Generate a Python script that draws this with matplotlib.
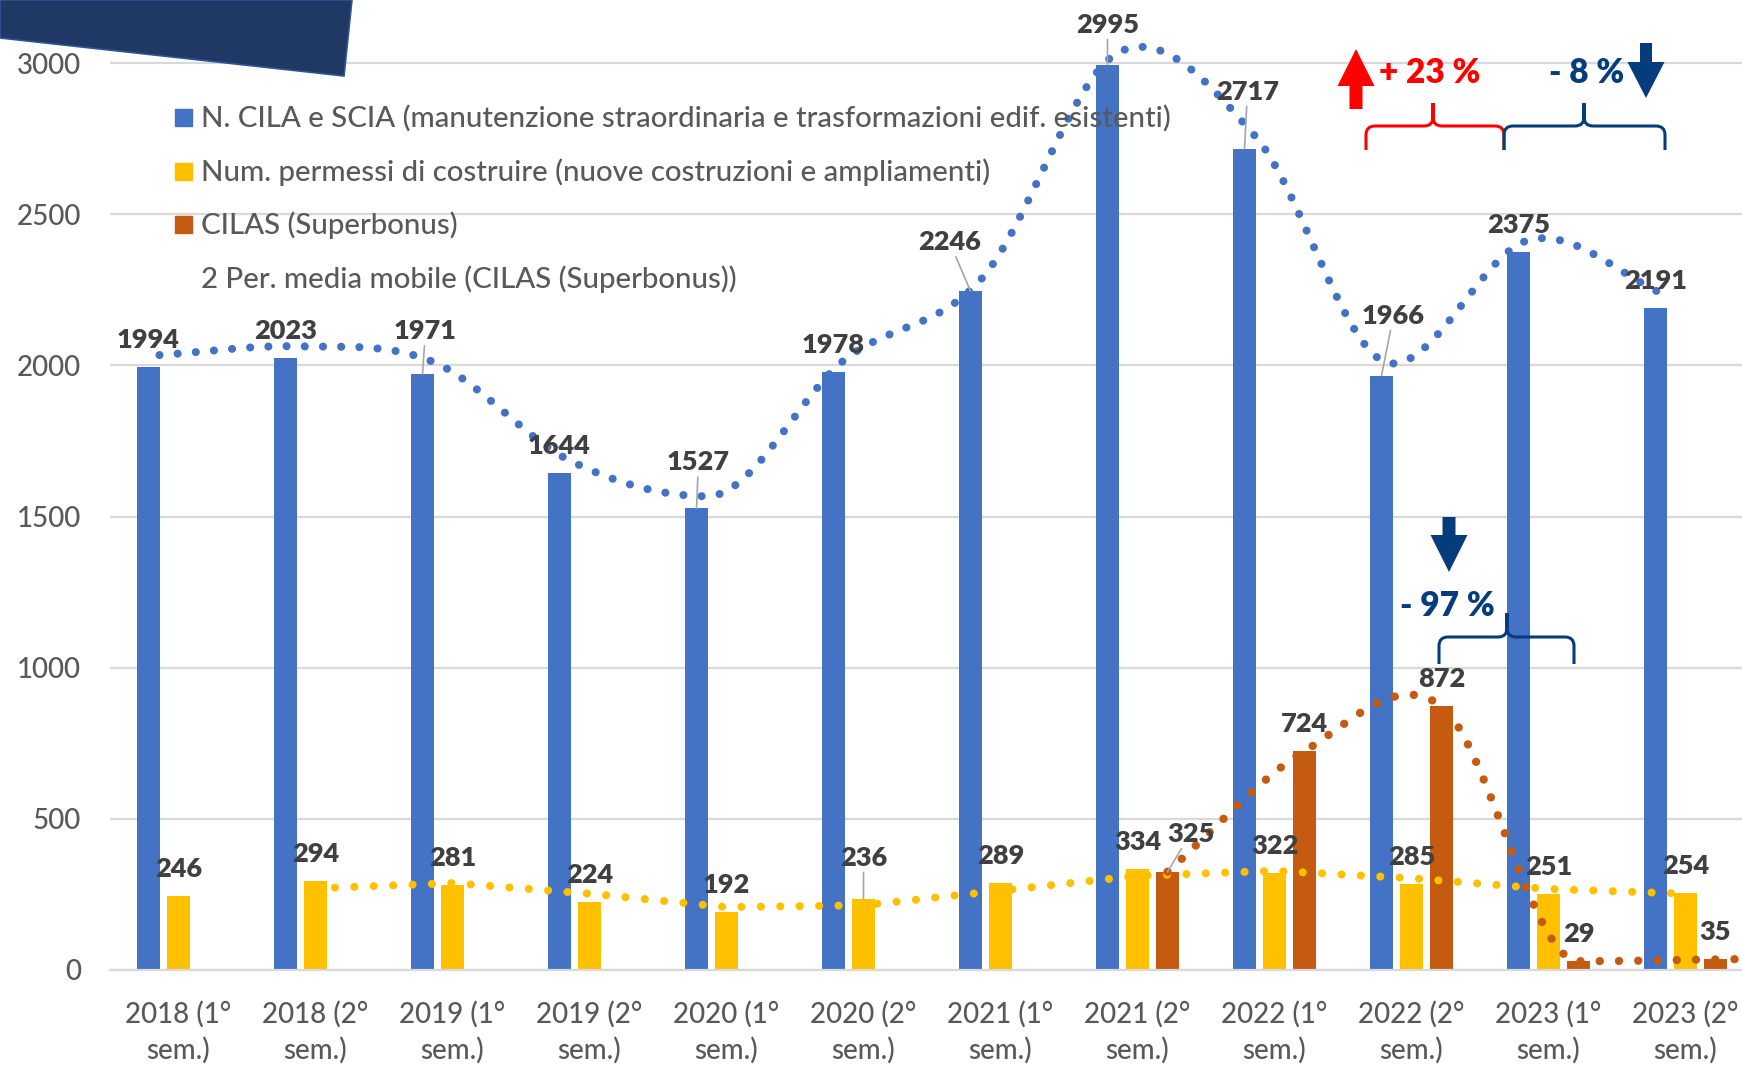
import numpy as np
import matplotlib
matplotlib.use("Agg")
import matplotlib.pyplot as plt
from matplotlib.patches import Polygon, PathPatch, Rectangle
from matplotlib.path import Path
from matplotlib.transforms import Affine2D

# ---------------- data ----------------
categories = ["2018 (1°\nsem.)", "2018 (2°\nsem.)", "2019 (1°\nsem.)", "2019 (2°\nsem.)",
              "2020 (1°\nsem.)", "2020 (2°\nsem.)", "2021 (1°\nsem.)", "2021 (2°\nsem.)",
              "2022 (1°\nsem.)", "2022 (2°\nsem.)", "2023 (1°\nsem.)", "2023 (2°\nsem.)"]
cila_scia = [1994, 2023, 1971, 1644, 1527, 1978, 2246, 2995, 2717, 1966, 2375, 2191]
permessi = [246, 294, 281, 224, 192, 236, 289, 334, 322, 285, 251, 254]
cilas = [np.nan] * 7 + [325, 724, 872, 29, 35]
legend_labels = ["N. CILA e SCIA (manutenzione straordinaria e trasformazioni edif. esistenti)",
                 "Num. permessi di costruire (nuove costruzioni e ampliamenti)",
                 "CILAS (Superbonus)",
                 "2 Per. media mobile (CILAS (Superbonus))"]
yticks = [0, 500, 1000, 1500, 2000, 2500, 3000]
note_up = "+ 23 %"
note_down = "- 8 %"
note_cilas = "- 97 %"

# ---------------- style ----------------
BLUE, YELLOW, ORANGE = "#4472C4", "#FFC000", "#C55A11"
NAVY = "#203864"
ANN_BLUE = "#053D7C"
RED = "#FF0000"
GRID = "#D9D9D9"
TXT = "#595959"
LBL = "#404040"
plt.rcParams["font.family"] = ["Lato", "DejaVu Sans"]
REG_W = "medium"

W, H = 1742, 1065
fig = plt.figure(figsize=(W / 100, H / 100), dpi=100)
PX = Affine2D().scale(1 / W, -1 / H).translate(0, 1) + fig.transFigure  # pixel coords, top-left origin

ax_left, ax_bottom_px = 110, 970
ax = fig.add_axes([ax_left / W, (H - ax_bottom_px) / H, (W - ax_left) / W, ax_bottom_px / H])
n = len(categories)
x = np.arange(n)
step_px = 137.0
x_right = -0.5 + (W - ax_left) / step_px
ax.set_xlim(-0.5, x_right)
ax.set_ylim(0, ax_bottom_px / 0.30233)

bw, off = 0.175, 0.219
xb, xy, xo = x - off, x, x + off
ax.bar(xb, cila_scia, width=bw, color=BLUE, zorder=2)
ax.bar(xy, permessi, width=bw, color=YELLOW, zorder=2)
cil = np.array(cilas, dtype=float)
mask = ~np.isnan(cil)
ax.bar(xo[mask], cil[mask], width=bw, color=ORANGE, zorder=2)


def smooth(xp, yp, n_seg=60):
    xp, yp = np.asarray(xp, float), np.asarray(yp, float)
    k = len(xp)
    m = np.zeros(k)
    for i in range(k):
        if i == 0:
            m[i] = (yp[1] - yp[0]) / (xp[1] - xp[0])
        elif i == k - 1:
            m[i] = (yp[-1] - yp[-2]) / (xp[-1] - xp[-2])
        else:
            m[i] = (yp[i + 1] - yp[i - 1]) / (xp[i + 1] - xp[i - 1])
            if yp[i] < yp[i - 1] and yp[i] < yp[i + 1]:
                m[i] = 0.0
    xs, ys = [], []
    for i in range(k - 1):
        h = xp[i + 1] - xp[i]
        t = np.linspace(0, 1, n_seg, endpoint=(i == k - 2))
        h00 = 2 * t**3 - 3 * t**2 + 1
        h10 = t**3 - 2 * t**2 + t
        h01 = -2 * t**3 + 3 * t**2
        h11 = t**3 - t**2
        xs.append(xp[i] + t * h)
        ys.append(h00 * yp[i] + h10 * h * m[i] + h01 * yp[i + 1] + h11 * h * m[i + 1])
    return np.concatenate(xs), np.concatenate(ys), m[-1]


DOT = dict(dash_capstyle="round", zorder=3)
# blue trend: smoothed line drawn slightly above the bar tops
curve_shift, curve_lift = 0.08, 40
xs_b, ys_b, _ = smooth(xb + curve_shift, np.array(cila_scia, float) + curve_lift)
ax.plot(xs_b, ys_b, color=BLUE, lw=5.8, linestyle=(0, (0.01, 2.25)), **DOT)

# yellow trend: 2-period moving average
perm = np.array(permessi, float)
ma = (perm[1:] + perm[:-1]) / 2
ax.plot(xy[1:], ma, color=YELLOW, lw=5.8, linestyle=(0, (0.01, 2.4)), **DOT)

# orange trend: smoothed line through CILAS
xs_o, ys_o, m_end = smooth(xo[mask], cil[mask])
xs_o = np.append(xs_o, x_right)
ys_o = np.append(ys_o, ys_o[-1] + m_end * (x_right - xo[mask][-1]))
ax.plot(xs_o, ys_o, color=ORANGE, lw=6.0, linestyle=(0, (0.01, 2.3)), clip_on=False, **DOT)

# axes styling
for s in ["left", "right", "top"]:
    ax.spines[s].set_visible(False)
ax.spines["bottom"].set_color(GRID)
ax.spines["bottom"].set_linewidth(1.6)
ax.set_yticks(yticks)
ax.yaxis.grid(True, color=GRID, lw=1.6)
ax.set_axisbelow(True)
ax.tick_params(axis="y", length=0, pad=21, labelsize=20, labelcolor=TXT)
ax.set_xticks(x)
ax.set_xticklabels(categories, linespacing=1.43)
ax.tick_params(axis="x", length=0, pad=22, labelsize=20, labelcolor=TXT)
for t in ax.get_xticklabels() + ax.get_yticklabels():
    t.set_fontweight(REG_W)

# data labels
label_off = {("b", 2): (3, 43), ("b", 4): (2, 46), ("b", 6): (-21, 49), ("b", 7): (0, 40),
             ("b", 8): (3, 57), ("b", 9): (12, 60), ("y", 5): (0, 41), ("o", 7): (23, 38)}
leaders = {("b", 2), ("b", 4), ("b", 6), ("b", 7), ("b", 8), ("b", 9), ("y", 5), ("o", 7)}


def put_labels(key, xs, vals):
    for i, (xx, v) in enumerate(zip(xs, vals)):
        if np.isnan(v):
            continue
        dx, dy = label_off.get((key, i), (0, 27))
        kw = {}
        if (key, i) in leaders:
            kw["arrowprops"] = dict(arrowstyle="-", color="#A6A6A6", lw=1.2, shrinkA=0, shrinkB=0)
        ax.annotate(f"{int(v)}", xy=(xx, v), xytext=(dx, dy), textcoords="offset pixels",
                    ha="center", va="center", fontsize=19.5, fontweight="heavy", color=LBL,
                    zorder=5, **kw)


put_labels("b", xb, np.array(cila_scia, float))
put_labels("y", xy, perm)
put_labels("o", xo, cil)

# legend (manual)
leg_y = [118, 172, 225, 279]
leg_col = [BLUE, YELLOW, ORANGE, None]
for yy, col, lab in zip(leg_y, leg_col, legend_labels):
    if col:
        fig.add_artist(Rectangle((175, yy - 9), 17, 17, transform=PX, color=col, zorder=6))
    fig.text(201 / W, 1 - yy / H, lab, ha="left", va="center", fontsize=21.2,
             fontweight=REG_W, color=TXT, zorder=6)

# dark header shape
fig.add_artist(Polygon([(0, 0), (352, 0), (344, 76), (0, 38)], closed=True, transform=PX,
                       facecolor=NAVY, edgecolor="#2F5597", lw=1.2, zorder=7))


def block_arrow(cx, y_tail, y_tip, head_w, head_h, shaft_w, color):
    d = 1 if y_tip > y_tail else -1
    yb = y_tip - d * head_h
    pts = [(cx - shaft_w / 2, y_tail), (cx + shaft_w / 2, y_tail), (cx + shaft_w / 2, yb),
           (cx + head_w / 2, yb), (cx, y_tip), (cx - head_w / 2, yb), (cx - shaft_w / 2, yb)]
    fig.add_artist(Polygon(pts, closed=True, transform=PX, facecolor=color, edgecolor="none", zorder=7))


def brace(x0, x1, xt, y_tip, y_h, y_end, color, r=9):
    verts, codes = [], []
    for xa, sgn in ((x0, 1), (x1, -1)):
        verts += [(xa, y_end), (xa, y_h + r), (xa, y_h), (xa + sgn * r, y_h),
                  (xt - sgn * r, y_h), (xt, y_h), (xt, y_h - r), (xt, y_tip)]
        codes += [Path.MOVETO, Path.LINETO, Path.CURVE3, Path.CURVE3,
                  Path.LINETO, Path.CURVE3, Path.CURVE3, Path.LINETO]
    fig.add_artist(PathPatch(Path(verts, codes), transform=PX, facecolor="none",
                             edgecolor=color, lw=2.2, zorder=7))


block_arrow(1356, 109, 49, 37, 37, 13, RED)
fig.text(1430 / W, 1 - 73 / H, note_up, ha="center", va="center", fontsize=24,
         fontweight="heavy", color=RED, zorder=7)
brace(1366, 1504, 1433, 103, 126, 150, RED)
brace(1504, 1665, 1584, 103, 126, 150, ANN_BLUE)
fig.text(1587 / W, 1 - 73 / H, note_down, ha="center", va="center", fontsize=24,
         fontweight="heavy", color=ANN_BLUE, zorder=7)
block_arrow(1646, 43, 98, 37, 36, 12, ANN_BLUE)

block_arrow(1449, 517, 572, 37, 37, 13, ANN_BLUE)
fig.text(1447 / W, 1 - 606 / H, note_cilas, ha="center", va="center", fontsize=24,
         fontweight="heavy", color=ANN_BLUE, zorder=7)
brace(1439, 1574, 1507, 613, 637, 664, ANN_BLUE)

fig.savefig("out.png", dpi=100)
